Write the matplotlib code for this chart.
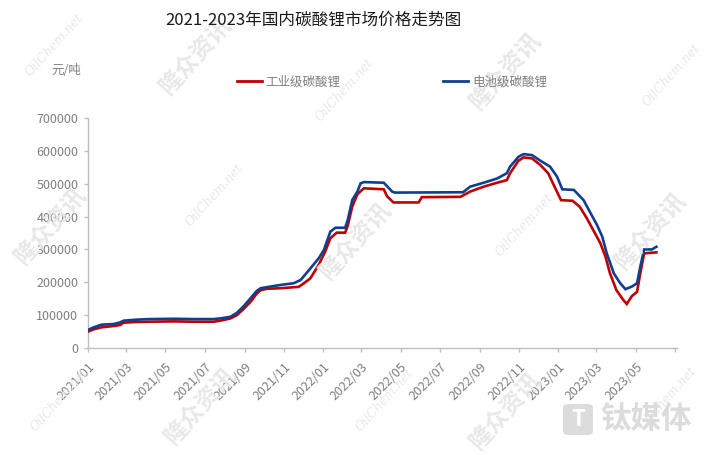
import matplotlib
matplotlib.use('Agg')
import matplotlib.pyplot as plt
from matplotlib.lines import Line2D
from matplotlib.patches import FancyBboxPatch
import pandas as pd

plt.rcParams['font.family'] = ['Noto Sans CJK SC', 'DejaVu Sans']

title = "2021-2023年国内碳酸锂市场价格走势图"
unit_label = "元/吨"
series_names = ["工业级碳酸锂", "电池级碳酸锂"]

industrial_dates = [
    "2021-01-01", "2021-01-10", "2021-01-22", "2021-02-10", "2021-02-20", "2021-02-25",
    "2021-03-15", "2021-04-05", "2021-05-15", "2021-06-15", "2021-07-15", "2021-07-25",
    "2021-08-10", "2021-08-20", "2021-08-30", "2021-09-10", "2021-09-20", "2021-09-26",
    "2021-10-05", "2021-10-27", "2021-11-24", "2021-12-02", "2021-12-12", "2021-12-25",
    "2022-01-04", "2022-01-12", "2022-01-22", "2022-02-04", "2022-02-08", "2022-02-15",
    "2022-02-23", "2022-03-05", "2022-04-05", "2022-04-10", "2022-04-20", "2022-05-29",
    "2022-06-03", "2022-08-02", "2022-08-17", "2022-09-07", "2022-09-28", "2022-10-13",
    "2022-10-18", "2022-10-31", "2022-11-08", "2022-11-21", "2022-12-04", "2022-12-16",
    "2022-12-26", "2023-01-05", "2023-01-23", "2023-02-03", "2023-02-14", "2023-02-24",
    "2023-03-07", "2023-03-15", "2023-03-22", "2023-04-01", "2023-04-11", "2023-04-17",
    "2023-04-25", "2023-05-03", "2023-05-08", "2023-05-14", "2023-05-26", "2023-06-02",
]
industrial_prices = [
    50000, 57000, 63000, 67000, 70000, 77000,
    79000, 80000, 81000, 80000, 80000, 83000,
    90000, 100000, 118000, 140000, 166000, 176000,
    180000, 182000, 186000, 197000, 212000, 253000,
    293000, 334000, 351000, 351000, 372000, 430000,
    468000, 486000, 483000, 462000, 443000, 443000,
    459000, 460000, 476000, 491000, 503000, 511000,
    532000, 570000, 580000, 577000, 557000, 532000,
    491000, 450000, 448000, 430000, 395000, 359000,
    319000, 278000, 227000, 176000, 148000, 134000,
    158000, 171000, 227000, 288000, 290000, 291000,
]

battery_dates = [
    "2021-01-01", "2021-01-10", "2021-01-22", "2021-02-10", "2021-02-20", "2021-02-25",
    "2021-03-15", "2021-04-05", "2021-05-15", "2021-06-15", "2021-07-15", "2021-07-25",
    "2021-08-10", "2021-08-20", "2021-08-30", "2021-09-10", "2021-09-20", "2021-09-26",
    "2021-10-05", "2021-10-27", "2021-11-16", "2021-11-27", "2021-12-12", "2021-12-25",
    "2022-01-02", "2022-01-12", "2022-01-20", "2022-02-04", "2022-02-08", "2022-02-15",
    "2022-02-23", "2022-02-28", "2022-03-05", "2022-04-05", "2022-04-18", "2022-04-22",
    "2022-08-06", "2022-08-17", "2022-09-07", "2022-09-28", "2022-10-13", "2022-10-18",
    "2022-10-31", "2022-11-08", "2022-11-21", "2022-12-04", "2022-12-19", "2022-12-30",
    "2023-01-07", "2023-01-25", "2023-02-09", "2023-02-20", "2023-03-02", "2023-03-10",
    "2023-03-17", "2023-03-28", "2023-04-07", "2023-04-15", "2023-04-25", "2023-05-03",
    "2023-05-08", "2023-05-14", "2023-05-26", "2023-06-02",
]
battery_prices = [
    55000, 63000, 71000, 73000, 78000, 83000,
    86000, 88000, 89000, 88000, 88000, 90000,
    95000, 107000, 126000, 151000, 174000, 182000,
    185000, 192000, 197000, 207000, 242000, 273000,
    298000, 354000, 366000, 366000, 389000, 450000,
    476000, 501000, 505000, 503000, 476000, 473000,
    474000, 491000, 503000, 516000, 532000, 552000,
    582000, 590000, 587000, 570000, 552000, 521000,
    483000, 481000, 450000, 410000, 374000, 339000,
    288000, 227000, 197000, 179000, 187000, 197000,
    247000, 300000, 300000, 308000,
]

y_ticks = [0, 100000, 200000, 300000, 400000, 500000, 600000, 700000]
x_tick_dates = ["2021-01-01", "2021-03-01", "2021-05-01", "2021-07-01", "2021-09-01",
                "2021-11-01", "2022-01-01", "2022-03-01", "2022-05-01", "2022-07-01",
                "2022-09-01", "2022-11-01", "2023-01-01", "2023-03-01", "2023-05-01",
                "2023-07-01"]
x_tick_labels = ["2021/01", "2021/03", "2021/05", "2021/07", "2021/09", "2021/11",
                 "2022/01", "2022/03", "2022/05", "2022/07", "2022/09", "2022/11",
                 "2023/01", "2023/03", "2023/05", ""]

W, H = 706, 455
fig = plt.figure(figsize=(W / 100, H / 100), dpi=100)

# faint watermarks (background)
wm_col = '#e8e8e8'
for (px, py) in [(195, 55), (505, 70), (50, 225), (355, 240), (650, 230), (200, 405), (505, 410)]:
    fig.text(px / W, 1 - py / H, "隆众资讯", fontsize=17, fontweight='bold', style='italic',
             color=wm_col, rotation=48, ha='center', va='center', zorder=0)
for (px, py) in [(55, 45), (345, 90), (672, 75), (215, 195), (525, 225), (385, 400), (668, 398), (60, 400)]:
    fig.text(px / W, 1 - py / H, "OilChem.net", fontsize=9, family='DejaVu Serif', style='italic',
             color=wm_col, rotation=48, ha='center', va='center', zorder=0)

ax = fig.add_axes([88 / W, 1 - 348 / H, (677 - 88) / W, (348 - 118) / H])
ax.patch.set_alpha(0)

ind_x = pd.to_datetime(industrial_dates)
bat_x = pd.to_datetime(battery_dates)
red = '#C00000'
blue = '#0F3F8F'
ax.plot(ind_x, industrial_prices, color=red, lw=1.9, solid_joinstyle='miter', zorder=3)
ax.plot(bat_x, battery_prices, color=blue, lw=1.9, solid_joinstyle='miter', zorder=4)

ax.set_ylim(0, 700000)
ax.set_yticks(y_ticks)
ax.set_yticklabels([str(v) for v in y_ticks])
ax.set_xlim(pd.Timestamp("2021-01-01"), pd.Timestamp("2023-07-04"))
ax.set_xticks(pd.to_datetime(x_tick_dates))
ax.set_xticklabels(x_tick_labels, rotation=45, ha='right', rotation_mode='anchor')

for s in ['top', 'right']:
    ax.spines[s].set_visible(False)
for s in ['left', 'bottom']:
    ax.spines[s].set_color('#bfbfbf')
    ax.spines[s].set_linewidth(1.0)
ax.tick_params(axis='both', colors='#bfbfbf', length=3, width=1.0)
ax.tick_params(axis='y', labelsize=9, labelcolor='#7f7f7f', pad=4)
ax.tick_params(axis='x', labelsize=9, labelcolor='#7f7f7f', pad=6)

fig.text(313 / W, 1 - 20 / H, title, fontsize=12, color='#1a1a1a', ha='center', va='center')
fig.text(66 / W, 1 - 70 / H, unit_label, fontsize=9, color='#7f7f7f', ha='center', va='center')

handles = [Line2D([], [], color=red, lw=2.0), Line2D([], [], color=blue, lw=2.0)]
fig.legend(handles, series_names, loc='center', bbox_to_anchor=(392 / W, 1 - 82 / H), ncol=2,
           frameon=False, fontsize=9, handlelength=2.0, handletextpad=0.3, columnspacing=8.2,
           labelcolor='#7f7f7f')

# bottom-right logo watermark
logo = FancyBboxPatch((563 / W, 1 - 435 / H), 30 / W, 31 / H, boxstyle="round,pad=0,rounding_size=0.008",
                      transform=fig.transFigure, facecolor='#dcdcdc', edgecolor='none', zorder=0)
fig.patches.append(logo)
fig.text(578 / W, 1 - 419 / H, "T", fontsize=16, fontweight='bold', style='italic', color='white',
         ha='center', va='center')
fig.text(646 / W, 1 - 419 / H, "钛媒体", fontsize=22, fontweight='bold', color='#dcdcdc',
         ha='center', va='center', zorder=0)

fig.savefig('out.png', dpi=100)
